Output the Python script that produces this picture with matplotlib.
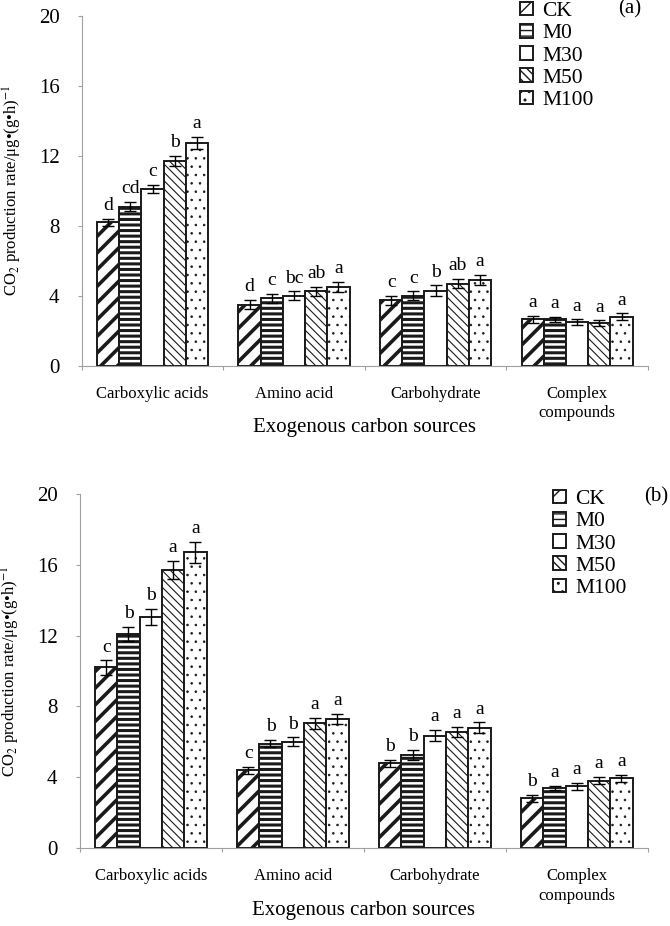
import numpy as np
import matplotlib
matplotlib.use('Agg')
import matplotlib.pyplot as plt
from matplotlib.patches import Patch

plt.rcParams['font.family'] = ['Liberation Serif', 'DejaVu Serif']
plt.rcParams['mathtext.fontset'] = 'stix'


# Data.
categories = ['Carboxylic acids', 'Amino acid', 'Carbohydrate',
              'Complex\ncompounds']
treatments = ['CK', 'M0', 'M30', 'M50', 'M100']

# rows = treatments, columns = categories
vals_a = np.array([[8.2, 3.5, 3.75, 2.65],
                   [9.1, 3.85, 4.0, 2.65],
                   [10.1, 4.0, 4.3, 2.5],
                   [11.7, 4.25, 4.7, 2.45],
                   [12.75, 4.5, 4.9, 2.8]])
err_a = np.array([[0.2, 0.25, 0.25, 0.2],
                  [0.25, 0.25, 0.25, 0.15],
                  [0.25, 0.25, 0.3, 0.15],
                  [0.3, 0.25, 0.25, 0.15],
                  [0.35, 0.3, 0.3, 0.2]])
letters_a = [['d', 'd', 'c', 'a'],
             ['cd', 'c', 'c', 'a'],
             ['c', 'bc', 'b', 'a'],
             ['b', 'ab', 'ab', 'a'],
             ['a', 'a', 'a', 'a']]

vals_b = np.array([[10.2, 4.4, 4.8, 2.8],
                   [12.1, 5.9, 5.25, 3.4],
                   [13.05, 6.0, 6.35, 3.5],
                   [15.7, 7.05, 6.55, 3.8],
                   [16.7, 7.3, 6.8, 3.95]])
err_b = np.array([[0.4, 0.2, 0.2, 0.2],
                  [0.4, 0.2, 0.3, 0.1],
                  [0.45, 0.25, 0.3, 0.2],
                  [0.5, 0.3, 0.3, 0.2],
                  [0.6, 0.3, 0.3, 0.2]])
letters_b = [['c', 'c', 'b', 'b'],
             ['b', 'b', 'b', 'a'],
             ['b', 'b', 'a', 'a'],
             ['a', 'a', 'a', 'a'],
             ['a', 'a', 'a', 'a']]

yticks = [0, 4, 8, 12, 16, 20]

# Bar styles: hatch, hatch linewidth
hatches = ['//', '---', '', '\\\\\\\\', '..']
hatch_lw = [2.6, 2.2, 1.0, 0.8, 0.6]

edge = '#1a1a1a'
axis_gray = '#a0a0a0'
width = 0.157
ylabel = r'CO$_2$ production rate/μg•(g•h)$^{-1}$'


def draw_panel(ax, vals, errs, letters, tag, tag_xy, leg_anchor):
    x = np.arange(len(categories))
    handles = []
    for i, name in enumerate(treatments):
        pos = x + (i - 2) * width
        bars = ax.bar(pos, vals[i], width, color='white', edgecolor=edge,
                      linewidth=1.4, hatch=hatches[i], zorder=2)
        for b in bars:
            if hasattr(b, 'set_hatch_linewidth'):
                b.set_hatch_linewidth(hatch_lw[i])
        ax.errorbar(pos, vals[i], yerr=errs[i], fmt='none', ecolor='black',
                    elinewidth=1.0, capsize=4, capthick=1.0, zorder=3)
        for j in range(len(categories)):
            ax.text(pos[j], vals[i][j] + errs[i][j] + 0.5, letters[i][j],
                    ha='center', va='baseline', fontsize=14)
        p = Patch(facecolor='white', edgecolor=edge, linewidth=1.4,
                  hatch=hatches[i])
        if hasattr(p, 'set_hatch_linewidth'):
            p.set_hatch_linewidth(min(hatch_lw[i], 1.6))
        handles.append(p)

    ax.set_xlim(-0.5, 3.5)
    ax.set_ylim(0, 20)
    ax.set_yticks(yticks)
    ax.set_xticks(np.arange(-0.5, 4.0, 1.0))
    ax.set_xticklabels([])
    for j, c in enumerate(categories):
        ax.text(j, -1.15, c, ha='center', va='top', fontsize=12,
                linespacing=1.3)
    ax.text(1.5, -3.0, 'Exogenous carbon sources', ha='center', va='top',
            fontsize=15)

    ax.spines['top'].set_visible(False)
    ax.spines['right'].set_visible(False)
    for s in ['left', 'bottom']:
        ax.spines[s].set_color(axis_gray)
        ax.spines[s].set_linewidth(0.8)
    ax.tick_params(axis='y', direction='out', length=3, color=axis_gray,
                   labelsize=15, pad=13)
    ax.tick_params(axis='x', direction='out', length=3, color=axis_gray)
    ax.set_ylabel(ylabel, fontsize=12)
    ax.yaxis.set_label_coords(-0.122, 0.5)
    ax.yaxis.label.set_va('center')

    ax.legend(handles, treatments, loc='upper left',
              bbox_to_anchor=leg_anchor, frameon=False, fontsize=15.5,
              handlelength=0.6, handleheight=0.6, handletextpad=0.45,
              labelspacing=0.13, borderpad=0, borderaxespad=0)
    ax.text(tag_xy[0], tag_xy[1], tag, ha='center', va='center', fontsize=15)


fig = plt.figure(figsize=(6.7, 9.26), dpi=100)
ax1 = fig.add_axes([0.122, 0.605, 0.845, 0.378])
ax2 = fig.add_axes([0.119, 0.0842, 0.848, 0.3823])

draw_panel(ax1, vals_a, err_a, letters_a, '(a)', (3.37, 20.4),
           (0.774, 1.04))
draw_panel(ax2, vals_b, err_b, letters_b, '(b)', (3.56, 19.83),
           (0.833, 1.012))

fig.savefig('out.png', dpi=100)
